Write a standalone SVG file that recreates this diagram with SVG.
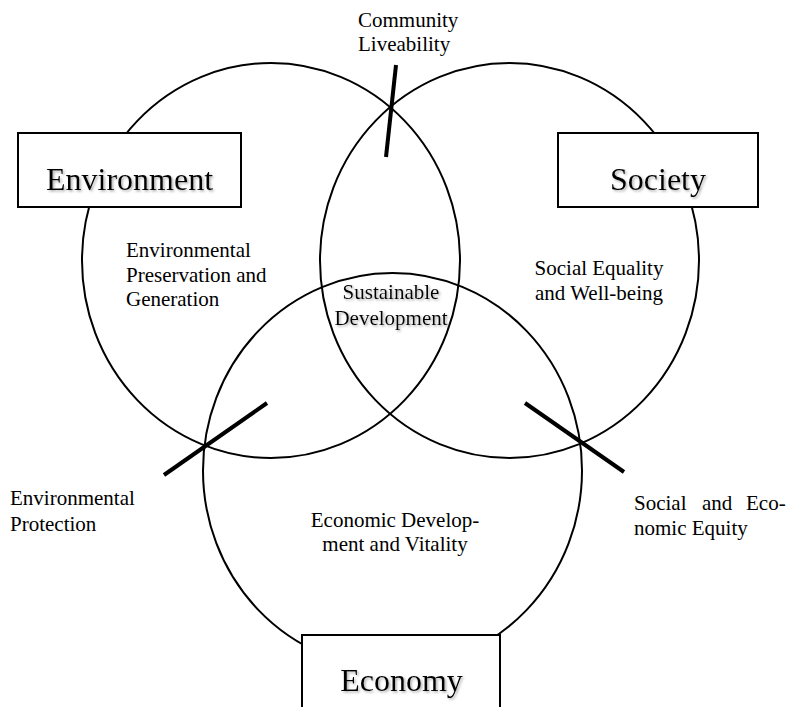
<svg xmlns="http://www.w3.org/2000/svg" width="787" height="707" viewBox="0 0 787 707">
  <defs>
    <filter id="sh" x="-10%" y="-20%" width="130%" height="150%">
      <feDropShadow dx="1.5" dy="1.5" stdDeviation="1" flood-color="#777" flood-opacity="0.6"/>
    </filter>
    <style>
      .ring { fill: none; stroke: #000; stroke-width: 2; }
      .box { fill: #fff; stroke: #000; stroke-width: 2; }
      .tick { stroke: #000; stroke-width: 4; fill: none; }
      .big { font-family: "Liberation Serif", "Times New Roman", serif; font-size: 32px; fill: #000; text-anchor: middle; filter: url(#sh); }
      .small { font-family: "Liberation Serif", "Times New Roman", serif; font-size: 21px; fill: #000; }
      .mid { text-anchor: middle; }
    </style>
  </defs>
  <rect width="787" height="707" fill="#fff"/>

  <g id="circles">
    <ellipse class="ring" cx="271" cy="260.5" rx="189" ry="197.5"/>
    <ellipse class="ring" cx="509.5" cy="260.5" rx="189.5" ry="197.5"/>
    <ellipse class="ring" cx="392.5" cy="470.5" rx="189.5" ry="197.5"/>
  </g>

  <g id="connectors">
    <line class="tick" x1="396" y1="65" x2="386" y2="157"/>
    <line class="tick" x1="267" y1="403" x2="164" y2="475"/>
    <line class="tick" x1="525" y1="403" x2="624" y2="472"/>
  </g>

  <g id="environment">
    <rect class="box" x="18" y="133" width="223" height="74"/>
    <text class="big" x="129.5" y="190">Environment</text>
  </g>

  <g id="society">
    <rect class="box" x="558" y="133" width="200" height="74"/>
    <text class="big" x="658" y="190">Society</text>
  </g>

  <g id="economy">
    <rect class="box" x="302" y="635" width="198" height="80"/>
    <text class="big" x="401.5" y="691">Economy</text>
  </g>

  <g id="community-liveability">
    <text class="small" x="358" y="27">Community</text>
    <text class="small" x="358" y="51">Liveability</text>
  </g>

  <g id="environmental-preservation">
    <text class="small" x="126" y="257">Environmental</text>
    <text class="small" x="126" y="282">Preservation and</text>
    <text class="small" x="126" y="306">Generation</text>
  </g>

  <g id="social-equality">
    <text class="small mid" x="599" y="275">Social Equality</text>
    <text class="small mid" x="599" y="300">and Well-being</text>
  </g>

  <g id="sustainable-development">
    <text class="small mid" x="391" y="299" filter="url(#sh)">Sustainable</text>
    <text class="small mid" x="391" y="325" filter="url(#sh)">Development</text>
  </g>

  <g id="economic-development">
    <text class="small mid" x="395" y="527">Economic Develop-</text>
    <text class="small mid" x="395" y="551">ment and Vitality</text>
  </g>

  <g id="environmental-protection">
    <text class="small" x="10" y="505">Environmental</text>
    <text class="small" x="10" y="531">Protection</text>
  </g>

  <g id="social-economic-equity">
    <text class="small" x="634" y="510">Social</text>
    <text class="small" x="702" y="510">and</text>
    <text class="small" x="746" y="510">Eco-</text>
    <text class="small" x="634" y="535">nomic Equity</text>
  </g>
</svg>
